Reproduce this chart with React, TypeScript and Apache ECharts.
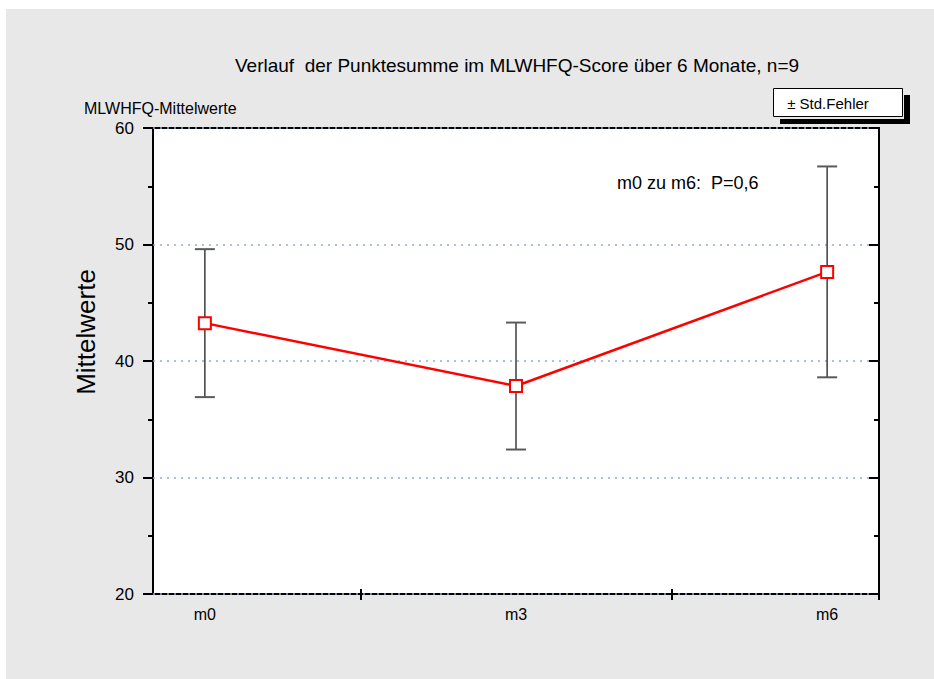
import React, { useEffect, useRef } from "react";
import * as echarts from "echarts";

// ---- data ----
const axisMonths = ["m0", "m1", "m2", "m3", "m4", "m5", "m6"];
const measuredIndex = [0, 3, 6];
const meanValues = [43.25, 37.85, 47.65];
const stdErrors = [6.35, 5.45, 9.05];
const yTicks = [20, 30, 40, 50, 60];

const titleText = "Verlauf  der Punktesumme im MLWHFQ-Score über 6 Monate, n=9";
const yTopLabel = "MLWHFQ-Mittelwerte";
const yName = "Mittelwerte";
const noteText = "m0 zu m6:  P=0,6";
const legendText = "± Std.Fehler";

const SANS = "'Liberation Sans', Arial, sans-serif";

export default function App() {
  const ref = useRef<HTMLDivElement>(null);
  useEffect(() => {
    document.body.style.margin = "0";
    if (!ref.current) return;
    const chart = echarts.init(ref.current, undefined, { renderer: "svg" });
    const linePoints = measuredIndex.map((x, i) => [x, meanValues[i]]);
    const errData = measuredIndex.map((x, i) => [x, meanValues[i] - stdErrors[i], meanValues[i] + stdErrors[i]]);
    const catAxisBase = {
      type: "category" as const,
      data: axisMonths,
      boundaryGap: true,
      position: "bottom" as const,
      axisLine: { show: false },
      splitLine: { show: false },
    };
    chart.setOption({
      animation: false,
      backgroundColor: "#ffffff",
      graphic: [
        { type: "rect", z: -10, silent: true, shape: { x: 6, y: 9, width: 934, height: 679 }, style: { fill: "#e8e8e8" } },
        { type: "text", x: 517, y: 65, style: { text: titleText, font: `19px ${SANS}`, fill: "#000", textAlign: "center", textVerticalAlign: "middle" } },
        { type: "text", x: 84, y: 108, style: { text: yTopLabel, font: `16px ${SANS}`, fill: "#000", textAlign: "left", textVerticalAlign: "middle" } },
        { type: "text", x: 86, y: 332, rotation: Math.PI / 2, style: { text: yName, font: `26px ${SANS}`, fill: "#000", textAlign: "center", textVerticalAlign: "middle" } },
        { type: "text", x: 617, y: 183, style: { text: noteText, font: `18px ${SANS}`, fill: "#000", textAlign: "left", textVerticalAlign: "middle" } },
        { type: "rect", shape: { x: 904, y: 95, width: 6, height: 24 }, style: { fill: "#000" } },
        { type: "rect", shape: { x: 780, y: 119, width: 130, height: 5 }, style: { fill: "#000" } },
        { type: "rect", shape: { x: 773.5, y: 88.5, width: 129, height: 28 }, style: { fill: "#fff", stroke: "#000", lineWidth: 1 } },
        { type: "text", x: 828, y: 103, style: { text: legendText, font: `15px ${SANS}`, fill: "#000", textAlign: "center", textVerticalAlign: "middle" } },
      ],
      grid: {
        left: 153, right: 55, top: 128, bottom: 85,
        show: true, backgroundColor: "#ffffff", borderColor: "#000", borderWidth: 2,
      },
      xAxis: [
        {
          ...catAxisBase,
          axisTick: { show: true, length: 6, inside: false, interval: (i: number) => i === 2 || i === 5, lineStyle: { color: "#000", width: 2 } },
          axisLabel: {
            interval: (i: number) => measuredIndex.includes(i),
            margin: 12, color: "#000", fontFamily: SANS, fontSize: 16,
          },
        },
        {
          ...catAxisBase,
          axisTick: { show: true, length: 5, inside: true, interval: (i: number) => i === 2 || i === 5, lineStyle: { color: "#000", width: 2 } },
          axisLabel: { show: false },
        },
      ],
      yAxis: [
        {
          type: "value", min: yTicks[0], max: yTicks[yTicks.length - 1], interval: 10, position: "left",
          axisLine: { show: false },
          axisTick: { show: true, inside: false, length: 10, lineStyle: { color: "#000", width: 2 } },
          minorTick: { show: true, splitNumber: 2, length: 5, lineStyle: { color: "#000", width: 2 } },
          axisLabel: { margin: 19, color: "#000", fontFamily: SANS, fontSize: 17 },
          splitLine: { show: true, lineStyle: { color: "#8eaadc", type: [2, 5], width: 1.5 } },
        },
        {
          type: "value", min: yTicks[0], max: yTicks[yTicks.length - 1], interval: 10, position: "right",
          axisLine: { show: false },
          axisTick: { show: true, inside: true, length: 10, lineStyle: { color: "#000", width: 2 } },
          minorTick: { show: true, splitNumber: 2, length: 5, lineStyle: { color: "#000", width: 2 } },
          axisLabel: { show: false },
          splitLine: { show: false },
        },
      ],
      series: [
        {
          type: "custom",
          xAxisIndex: 0, yAxisIndex: 0, z: 2,
          data: errData,
          renderItem: (params: any, api: any) => {
            const x = api.value(0);
            const lo = api.coord([x, api.value(1)]);
            const hi = api.coord([x, api.value(2)]);
            const cap = 10;
            const st = { stroke: "#3c3c3c", lineWidth: 1.5 };
            const cs = { stroke: "#5a5a5a", lineWidth: 2 };
            return {
              type: "group",
              children: [
                { type: "line", shape: { x1: lo[0], y1: lo[1], x2: hi[0], y2: hi[1] }, style: st },
                { type: "line", shape: { x1: hi[0] - cap, y1: hi[1], x2: hi[0] + cap, y2: hi[1] }, style: cs },
                { type: "line", shape: { x1: lo[0] - cap, y1: lo[1], x2: lo[0] + cap, y2: lo[1] }, style: cs },
              ],
            };
          },
        },
        {
          type: "line",
          xAxisIndex: 0, yAxisIndex: 0, z: 5,
          data: linePoints,
          symbol: "rect",
          symbolSize: 12,
          lineStyle: { color: "#ff0000", width: 2.5 },
          itemStyle: { color: "#ffffff", borderColor: "#ff0000", borderWidth: 2 },
        },
      ],
    });
    return () => chart.dispose();
  }, []);
  return <div ref={ref} style={{ width: 934, height: 679 }} />;
}
